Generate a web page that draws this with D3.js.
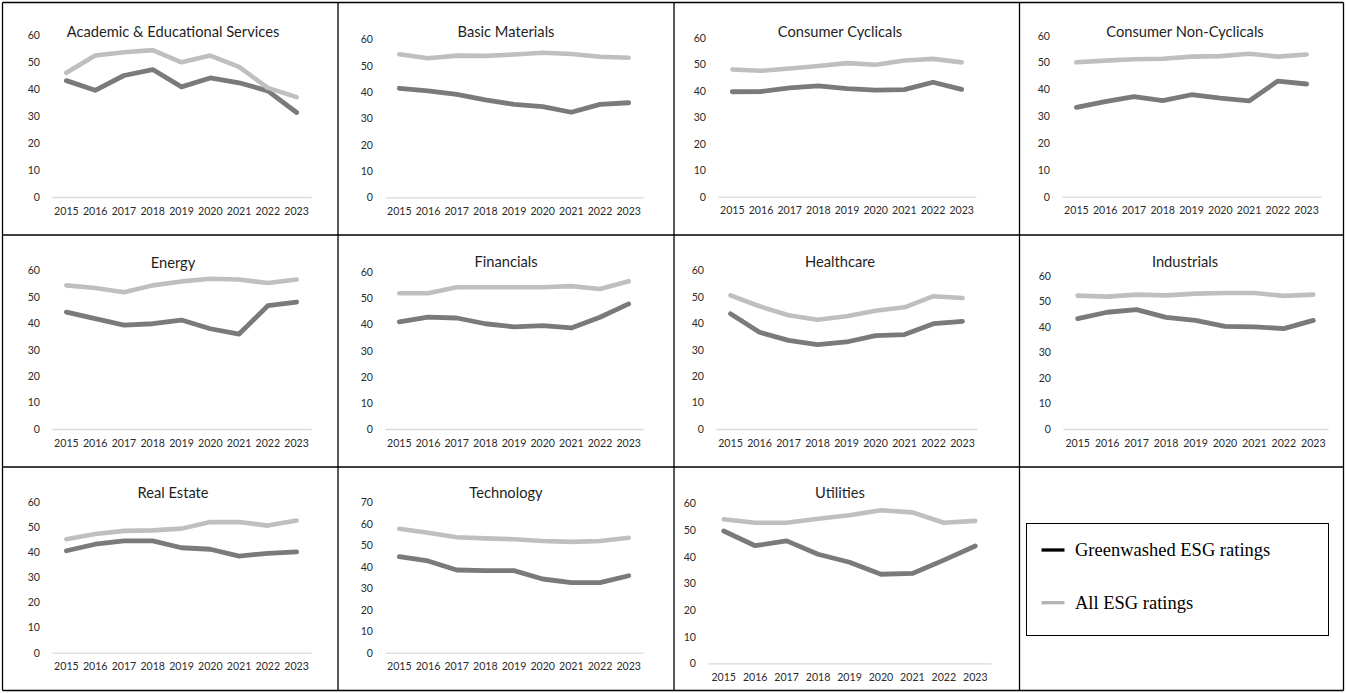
<!DOCTYPE html>
<html>
<head>
<meta charset="utf-8">
<script src="https://cdn.jsdelivr.net/npm/d3@7"></script>
<style>
  html, body { margin: 0; padding: 0; background: #fff; }
  svg { display: block; }
</style>
</head>
<body>
<svg id="chart" width="1346" height="693"></svg>
<script>
// Sector panels and the years on each x axis
const years = ["2015", "2016", "2017", "2018", "2019", "2020", "2021", "2022", "2023"];
const sectors = [
  "Academic & Educational Services", "Basic Materials", "Consumer Cyclicals", "Consumer Non-Cyclicals",
  "Energy", "Financials", "Healthcare", "Industrials",
  "Real Estate", "Technology", "Utilities"
];

// Average ESG score of greenwashed ratings, one row per sector
const greenwashed = [
  [43.1, 39.5, 45.0, 47.2, 40.8, 44.1, 42.3, 39.3, 31.3],
  [41.4, 40.4, 39.1, 37.0, 35.3, 34.4, 32.3, 35.3, 35.9],
  [39.6, 39.7, 41.1, 41.8, 40.8, 40.2, 40.4, 43.2, 40.5],
  [33.3, 35.4, 37.3, 35.8, 38.0, 36.7, 35.7, 43.1, 42.0],
  [44.2, 41.7, 39.3, 39.8, 41.2, 37.9, 35.9, 46.6, 48.0],
  [41.0, 42.8, 42.5, 40.3, 39.1, 39.6, 38.7, 42.8, 47.9],
  [43.6, 36.6, 33.5, 31.9, 32.9, 35.3, 35.7, 39.8, 40.7],
  [43.2, 45.7, 46.7, 43.7, 42.5, 40.2, 40.0, 39.3, 42.5],
  [40.5, 43.1, 44.4, 44.4, 41.7, 41.1, 38.4, 39.5, 40.1],
  [44.7, 42.7, 38.5, 38.2, 38.2, 34.3, 32.6, 32.6, 35.8],
  [49.6, 44.1, 45.9, 40.9, 37.9, 33.4, 33.7, 38.7, 44.0]
];

// Average ESG score of all ratings, one row per sector
const allRatings = [
  [46.0, 52.4, 53.6, 54.4, 49.9, 52.4, 48.2, 40.4, 37.0],
  [54.3, 52.8, 53.8, 53.7, 54.2, 54.9, 54.4, 53.4, 53.0],
  [48.0, 47.5, 48.4, 49.3, 50.4, 49.8, 51.4, 52.0, 50.7],
  [50.1, 50.7, 51.2, 51.4, 52.2, 52.4, 53.3, 52.2, 53.0],
  [54.3, 53.3, 51.7, 54.3, 55.8, 56.8, 56.5, 55.2, 56.5],
  [52.0, 52.0, 54.3, 54.3, 54.3, 54.3, 54.7, 53.6, 56.6],
  [50.5, 46.4, 43.0, 41.3, 42.6, 44.7, 46.0, 50.2, 49.5],
  [52.2, 51.8, 52.6, 52.3, 53.0, 53.2, 53.2, 52.1, 52.6],
  [45.1, 47.2, 48.4, 48.6, 49.3, 51.9, 51.9, 50.5, 52.5],
  [57.7, 55.8, 53.7, 53.2, 52.8, 52.0, 51.6, 52.0, 53.5],
  [54.0, 52.7, 52.7, 54.2, 55.5, 57.4, 56.6, 52.7, 53.4]
];

// Top of each panel's y axis
const axisMax = [60, 60, 60, 60, 60, 60, 60, 60, 60, 70, 60];

const legendLabels = ["Greenwashed ESG ratings", "All ESG ratings"];

// Plot frames: x0/x1 = axis extent, top/bottom = pixel rows of max and 0
const frames = [
  { x0: 52,   x1: 311,  top: 35,    bottom: 197,   tx: 173,  ty: 32 },
  { x0: 385,  x1: 643,  top: 39.3,  bottom: 197.3, tx: 506,  ty: 32 },
  { x0: 718,  x1: 976,  top: 37.7,  bottom: 196.7, tx: 840,  ty: 32 },
  { x0: 1062, x1: 1321, top: 35.7,  bottom: 196.7, tx: 1185, ty: 32 },
  { x0: 52,   x1: 311,  top: 270.3, bottom: 429,   tx: 173,  ty: 263 },
  { x0: 385,  x1: 643,  top: 272.3, bottom: 429,   tx: 506,  ty: 262 },
  { x0: 716,  x1: 977,  top: 270.3, bottom: 429,   tx: 840,  ty: 262 },
  { x0: 1063, x1: 1328, top: 275.7, bottom: 429,   tx: 1185, ty: 262 },
  { x0: 52,   x1: 311,  top: 501.7, bottom: 652.7, tx: 173,  ty: 493 },
  { x0: 385,  x1: 643,  top: 502.3, bottom: 652.7, tx: 506,  ty: 493 },
  { x0: 708,  x1: 991,  top: 503.3, bottom: 663.3, tx: 840,  ty: 493 }
];

// Table grid that boxes the panels
const colEdges = [2.5, 338, 674, 1019.5, 1343.5];
const rowEdges = [2.5, 235, 467, 690.5];

const darkColor = "#7a7a7c";
const lightColor = "#bfbfbf";
const textFont = "Lato, 'Open Sans', sans-serif";

const svg = d3.select("#chart");

sectors.forEach((name, i) => {
  const f = frames[i];
  const g = svg.append("g");

  const x = d3.scaleBand().domain(years).range([f.x0, f.x1]).padding(0);
  const y = d3.scaleLinear().domain([0, axisMax[i]]).range([f.bottom, f.top]);
  const cx = d => x(d) + x.bandwidth() / 2;

  // title
  g.append("text")
    .attr("x", f.tx).attr("y", f.ty)
    .attr("dy", "0.36em")
    .attr("text-anchor", "middle")
    .attr("font-family", textFont)
    .attr("font-size", 14.7)
    .attr("fill", "#1f1f1f")
    .text(name);

  // y axis labels only
  const yAxis = d3.axisLeft(y).tickValues(d3.range(0, axisMax[i] + 1, 10))
    .tickSize(0).tickPadding(12);
  const yg = g.append("g").attr("transform", `translate(${f.x0},0)`).call(yAxis);
  yg.select(".domain").remove();
  yg.selectAll("text")
    .attr("font-family", textFont).attr("font-size", 10.6).attr("fill", "#2b2b2b");

  // x axis: light baseline with year labels
  const xAxis = d3.axisBottom(x).tickSize(0).tickPadding(10);
  const xg = g.append("g").attr("transform", `translate(0,${f.bottom})`).call(xAxis);
  xg.select(".domain").attr("stroke", "#d9d9d9").attr("stroke-width", 1.3);
  xg.selectAll("text")
    .attr("font-family", textFont).attr("font-size", 10.6).attr("fill", "#2b2b2b");

  const line = d3.line().x((d, j) => cx(years[j])).y(d => y(d));

  g.append("path")
    .datum(greenwashed[i])
    .attr("d", line)
    .attr("fill", "none")
    .attr("stroke", darkColor)
    .attr("stroke-width", 4.8)
    .attr("stroke-linejoin", "round")
    .attr("stroke-linecap", "round");

  g.append("path")
    .datum(allRatings[i])
    .attr("d", line)
    .attr("fill", "none")
    .attr("stroke", lightColor)
    .attr("stroke-width", 4.6)
    .attr("stroke-linejoin", "round")
    .attr("stroke-linecap", "round");
});

// grid borders
const grid = svg.append("g").attr("stroke", "#000").attr("stroke-width", 1.3);
colEdges.forEach(xv => {
  grid.append("line").attr("x1", xv).attr("x2", xv)
    .attr("y1", rowEdges[0]).attr("y2", rowEdges[rowEdges.length - 1]);
});
rowEdges.forEach(yv => {
  grid.append("line").attr("y1", yv).attr("y2", yv)
    .attr("x1", colEdges[0]).attr("x2", colEdges[colEdges.length - 1]);
});

// legend box in the empty cell
const lg = svg.append("g");
lg.append("rect")
  .attr("x", 1026.5).attr("y", 523.5).attr("width", 302).attr("height", 112)
  .attr("fill", "#fff").attr("stroke", "#000").attr("stroke-width", 1);

const legendColors = ["#000000", "#b3b3b3"];
const legendY = d3.scalePoint().domain(legendLabels).range([550, 602.7]);
legendLabels.forEach((lab, k) => {
  const yy = legendY(lab);
  lg.append("line")
    .attr("x1", 1041.5).attr("x2", 1064.5).attr("y1", yy).attr("y2", yy)
    .attr("stroke", legendColors[k]).attr("stroke-width", 3.3);
  lg.append("text")
    .attr("x", 1075).attr("y", yy).attr("dy", "0.32em")
    .attr("font-family", "'Liberation Serif', 'Times New Roman', serif")
    .attr("font-size", 18.5).attr("fill", "#000")
    .text(lab);
});
</script>
</body>
</html>
